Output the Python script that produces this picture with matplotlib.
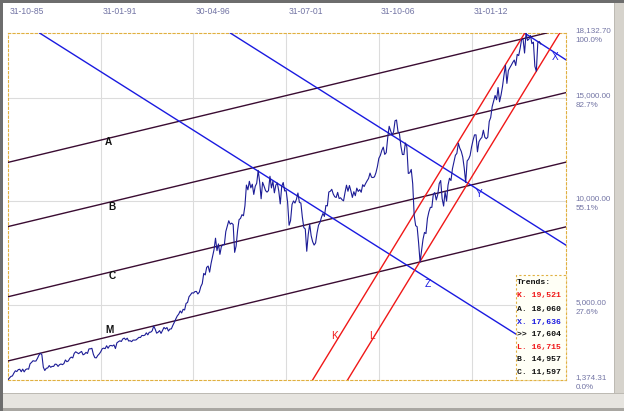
import numpy as np
import matplotlib
matplotlib.use("Agg")
import matplotlib.pyplot as plt
from matplotlib.patches import Rectangle
import matplotlib.transforms as mtransforms

# ---------------- data ----------------
start_year = 1985 + 10 / 12          # 31-10-85, first monthly close
x_max = 2017.43                      # right edge of the plotting area

dow_close = [
    1374.31, 1472.13, 1546.67,
    1570.99, 1709.06, 1818.61, 1783.98, 1876.71, 1892.72, 1775.31, 1898.34, 1767.58, 1877.81, 1914.23, 1895.95,
    2158.04, 2223.99, 2304.69, 2286.36, 2291.57, 2418.53, 2572.07, 2662.95, 2596.28, 1993.53, 1833.55, 1938.83,
    1958.22, 2071.62, 1988.06, 2032.33, 2031.12, 2141.71, 2128.73, 2031.65, 2112.91, 2148.65, 2114.51, 2168.57,
    2342.32, 2258.39, 2293.62, 2418.80, 2480.15, 2440.06, 2660.66, 2737.27, 2692.82, 2645.08, 2706.27, 2753.20,
    2590.54, 2627.25, 2707.21, 2656.76, 2876.66, 2880.69, 2905.20, 2614.36, 2452.48, 2442.33, 2559.65, 2633.66,
    2736.39, 2882.18, 2913.86, 2887.87, 3027.50, 2906.75, 3024.82, 3043.60, 3016.77, 3069.10, 2894.68, 3168.83,
    3223.39, 3267.67, 3235.47, 3359.12, 3396.88, 3318.52, 3393.78, 3257.35, 3271.66, 3226.28, 3305.16, 3301.11,
    3310.03, 3370.81, 3435.11, 3427.55, 3527.43, 3516.08, 3539.47, 3651.25, 3555.12, 3680.59, 3683.95, 3754.09,
    3978.36, 3832.02, 3635.96, 3681.69, 3758.37, 3624.96, 3764.50, 3913.42, 3843.19, 3908.12, 3739.23, 3834.44,
    3843.86, 4011.05, 4157.69, 4321.27, 4465.14, 4556.10, 4708.47, 4610.56, 4789.08, 4755.48, 5074.49, 5117.12,
    5395.30, 5485.62, 5587.14, 5569.08, 5643.18, 5654.63, 5528.91, 5616.21, 5882.17, 6029.38, 6521.70, 6448.27,
    6813.09, 6877.74, 6583.48, 7008.99, 7331.04, 7672.79, 8222.61, 7622.42, 7945.26, 7442.08, 7823.13, 7908.25,
    7906.50, 8545.72, 8799.81, 9063.37, 8899.95, 8952.02, 8883.29, 7539.07, 7842.62, 8592.10, 9116.55, 9181.43,
    9358.83, 9306.58, 9786.16, 10789.04, 10559.74, 10970.80, 10655.15, 10829.28, 10336.95, 10729.86, 10877.81, 11497.12,
    10940.53, 10128.31, 10921.92, 10733.91, 10522.33, 10447.89, 10521.98, 11215.10, 10650.92, 10971.14, 10414.49, 10787.99,
    10887.36, 10495.28, 9878.78, 10734.97, 10911.94, 10502.40, 10522.81, 9949.75, 8847.56, 9075.14, 9851.56, 10021.50,
    9920.00, 10106.13, 10403.94, 9946.22, 9925.25, 9243.26, 8736.59, 8663.50, 7591.93, 8397.03, 8896.09, 8341.63,
    8053.81, 7891.08, 7992.13, 8480.09, 8850.26, 8985.44, 9233.80, 9415.82, 9275.06, 9801.12, 9782.46, 10453.92,
    10488.07, 10583.92, 10357.70, 10225.57, 10188.45, 10435.48, 10139.71, 10173.92, 10080.27, 10027.47, 10428.02, 10783.01,
    10489.94, 10766.23, 10503.76, 10192.51, 10467.48, 10274.97, 10640.91, 10481.60, 10568.70, 10440.07, 10805.87, 10717.50,
    10864.86, 10993.41, 11109.32, 11367.14, 11168.31, 11150.22, 11185.68, 11381.15, 11679.07, 12080.73, 12221.93, 12463.15,
    12621.69, 12268.63, 12354.35, 13062.91, 13627.64, 13408.62, 13211.99, 13357.74, 13895.63, 13930.01, 13371.72, 13264.82,
    12650.36, 12266.39, 12262.89, 12820.13, 12638.32, 11350.01, 11378.02, 11543.55, 10850.66, 9325.01, 8829.04, 8776.39,
    8000.86, 7062.93, 7608.92, 8168.12, 8500.33, 8447.00, 9171.61, 9496.28, 9712.28, 9712.73, 10344.84, 10428.05,
    10067.33, 10325.26, 10856.63, 11008.61, 10136.63, 9774.02, 10465.94, 10014.72, 10788.05, 11118.49, 11006.02, 11577.51,
    11891.93, 12226.34, 12319.73, 12810.54, 12569.79, 12414.34, 12143.24, 11613.53, 10913.38, 11955.01, 12045.68, 12217.56,
    12632.91, 12952.07, 13212.04, 13213.63, 12393.45, 12880.09, 13008.68, 13090.84, 13437.13, 13096.46, 13025.58, 13104.14,
    13860.58, 14054.49, 14578.54, 14839.80, 15115.57, 14909.60, 15499.54, 14810.31, 15129.67, 15545.75, 16086.41, 16576.66,
    15698.85, 16321.71, 16457.66, 16580.84, 16717.17, 16826.60, 16563.30, 17098.45, 17042.90, 17390.52, 17828.24, 17823.07,
    17164.95, 18132.70, 17776.12, 17840.52, 18010.68, 17619.51, 17689.86, 16528.03, 16284.70, 17663.54, 17719.92, 17604.00,
]

date_labels = ["31-10-85", "31-01-91", "30-04-96", "31-07-01", "31-10-06", "31-01-12"]
date_positions = [1985 + 10/12, 1991 + 1/12, 1996 + 4/12, 2001 + 7/12, 2006 + 10/12, 2012 + 1/12]

y_tick_values = [1374.31, 5000, 10000, 15000, 18132.70]
y_tick_values_text = ["1,374.31", "5,000.00", "10,000.00", "15,000.00", "18,132.70"]
y_tick_pct = ["0.0%", "27.6%", "55.1%", "82.7%", "100.0%"]

# trend lines: two anchor points (year, value) each
line_names = ["A", "B", "C", "M", "Z", "Y", "X", "K", "L"]
line_p1 = [(1985.833, 11884), (1985.833, 8784), (1985.833, 5394), (1985.833, 2294),
           (1985.833, 19096), (1998.33, 18180), (2015.08, 18132.7),
           (2003.08, 1374.31), (2005.06, 1374.31)]
line_p2 = [(2015.98, 18060), (2015.98, 14957), (2015.98, 11597), (2015.98, 8474),
           (2015.98, 2845), (2015.98, 8667), (2015.98, 17636),
           (2015.13, 18180), (2017.11, 18180)]
line_kind = ["par", "par", "par", "par", "blue", "blue", "blue", "red", "red"]

# label positions (year, value) of the letters drawn on the chart
label_names = ["A", "B", "C", "M", "K", "L", "Z", "Y", "X"]
label_pos = [(1991.49, 12852), (1991.72, 9752), (1991.72, 6411), (1991.6, 3796),
             (2004.33, 3505), (2006.42, 3505), (2009.59, 6023), (2012.53, 10334), (2016.83, 16969)]
label_kind = ["par", "par", "par", "par", "red", "red", "blue", "blue", "blue"]

trend_rows = ["Trends:", "K. 19,521", "A. 18,060", "X. 17,636", ">> 17,604",
              "L. 16,715", "B. 14,957", "C. 11,597"]
trend_row_kind = ["par", "red", "par", "blue", "par", "red", "par", "par"]

# ---------------- style ----------------
kind_color = {"par": "#3a0c32", "blue": "#1a1ae0", "red": "#f01818"}
text_color = {"par": "#111111", "blue": "#1a1ae0", "red": "#f01818"}
axis_text = "#7274a4"
W, H = 624, 411

fig = plt.figure(figsize=(W / 100, H / 100), dpi=100, facecolor="white")

# window decorations
def fig_rect(x0, y0, x1, y1, color, z=0):
    fig.patches.append(Rectangle((x0 / W, 1 - y1 / H), (x1 - x0) / W, (y1 - y0) / H,
                                 transform=fig.transFigure, facecolor=color,
                                 edgecolor="none", zorder=z))

fig_rect(0, 0, W, 3, "#6d6d6d")
fig_rect(0, 0, 3, H, "#6d6d6d")
fig_rect(615, 3, W, 395, "#d6d3cc")
fig_rect(614, 3, 615, 395, "#bdbab3")
fig_rect(3, 394, W, H, "#e6e4df")
fig_rect(3, 393, W, 394, "#bdbab3")
fig_rect(3, 408, W, H, "#a9a7a2")

ax = fig.add_axes([8 / W, (H - 380) / H, 558 / W, 347 / H])
ax.set_facecolor("white")

x = start_year + np.arange(len(dow_close)) / 12.0
ax.plot(x, dow_close, color="#1c1c96", linewidth=0.8, zorder=4)

for name, p1, p2, kind in zip(line_names, line_p1, line_p2, line_kind):
    ax.axline(p1, p2, color=kind_color[kind], linewidth=1.0, zorder=3)

for name, pos, kind in zip(label_names, label_pos, label_kind):
    bold = "bold" if kind == "par" else "normal"
    ax.text(pos[0], pos[1], name, color=text_color[kind], fontsize=7.2,
            fontweight=bold, ha="center", va="center", zorder=5,
            family="Liberation Sans")

ax.set_xlim(start_year, x_max)
ax.set_ylim(y_tick_values[0], y_tick_values[-1])

# x ticks on top, left aligned
ax.set_xticks(date_positions)
ax.set_xticklabels(date_labels)
ax.xaxis.set_ticks_position("top")
ax.tick_params(axis="x", length=0, pad=12, labelsize=6.2, labelcolor=axis_text,
               top=True, bottom=False, labeltop=True, labelbottom=False)
offset = mtransforms.ScaledTranslation(2 / 100, 0, fig.dpi_scale_trans)
for lbl in ax.get_xticklabels():
    lbl.set_horizontalalignment("left")
    lbl.set_transform(lbl.get_transform() + offset)
    lbl.set_family("Liberation Sans")

ax.set_yticks(y_tick_values)
ax.set_yticklabels([f"{v}\n{p}" for v, p in zip(y_tick_values_text, y_tick_pct)])
ax.yaxis.tick_right()
ax.tick_params(axis="y", length=0, pad=7, labelsize=5.8, labelcolor=axis_text,
               left=False, right=True)
for lbl in ax.get_yticklabels():
    lbl.set_horizontalalignment("left")
    lbl.set_linespacing(1.55)
    lbl.set_family("Liberation Sans")

ax.grid(True, color="#dcdcdc", linewidth=0.8, zorder=0)
ax.set_axisbelow(True)
ygl = ax.get_ygridlines()
ygl[0].set_visible(False)
ygl[-1].set_visible(False)
ax.get_xgridlines()[0].set_visible(False)

for sp in ax.spines.values():
    sp.set_color("#e0b040")
    sp.set_linestyle((0, (2, 2)))
    sp.set_linewidth(0.8)

# trends box
box_x0, box_y0, box_w, box_h = (516 - 8) / 558, 0.0, 50 / 558, 105 / 347
ax.add_patch(Rectangle((box_x0, box_y0), box_w, box_h, transform=ax.transAxes,
                       facecolor="#fffff6", edgecolor="#e0b040", linewidth=0.8,
                       linestyle=(0, (2, 2)), zorder=6, clip_on=False))
row_px = [283, 296, 309, 322, 334, 347, 359, 372]
for txt, kind, py in zip(trend_rows, trend_row_kind, row_px):
    ax.text((517 - 8) / 558, (380 - py) / 347, txt, transform=ax.transAxes,
            color=text_color[kind], fontsize=5.9, fontweight="bold",
            family="Liberation Mono", ha="left", va="center", zorder=7)

fig.savefig("out.png", dpi=100, facecolor=fig.get_facecolor())
